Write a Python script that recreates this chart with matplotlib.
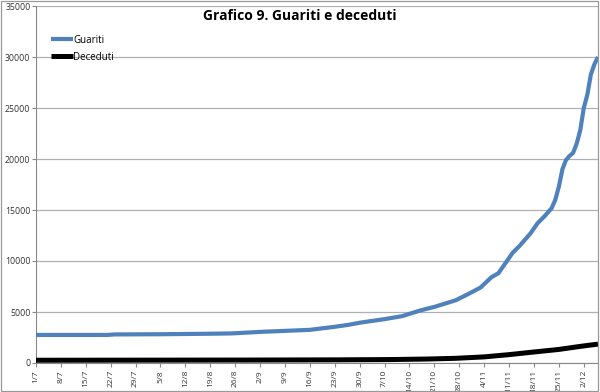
import numpy as np
import pandas as pd
import matplotlib
matplotlib.use("Agg")
import matplotlib.pyplot as plt
from matplotlib.patches import Rectangle

# data (2020, day/month)
guariti_dates = ["2020-07-01", "2020-07-21", "2020-07-23", "2020-08-05", "2020-08-19",
                 "2020-08-25", "2020-09-02", "2020-09-09", "2020-09-16", "2020-09-23",
                 "2020-09-27", "2020-09-30", "2020-10-04", "2020-10-07", "2020-10-12",
                 "2020-10-17", "2020-10-21", "2020-10-27", "2020-10-31", "2020-11-03",
                 "2020-11-06", "2020-11-08", "2020-11-10", "2020-11-12", "2020-11-14",
                 "2020-11-17", "2020-11-19", "2020-11-21", "2020-11-23", "2020-11-24",
                 "2020-11-25", "2020-11-26", "2020-11-27", "2020-11-28", "2020-11-29",
                 "2020-11-30", "2020-12-01", "2020-12-02", "2020-12-03", "2020-12-04",
                 "2020-12-05", "2020-12-06"]
guariti = [2750, 2750, 2800, 2820, 2870,
           2900, 3050, 3150, 3250, 3550,
           3750, 3950, 4150, 4300, 4600,
           5150, 5500, 6150, 6850, 7400,
           8400, 8800, 9800, 10800, 11500,
           12700, 13700, 14400, 15200, 16000,
           17300, 19000, 19900, 20300, 20600,
           21500, 22800, 25000, 26300, 28300,
           29300, 30000]

deceduti_dates = ["2020-07-01", "2020-08-30", "2020-09-24", "2020-10-09", "2020-10-19",
                  "2020-10-27", "2020-11-04", "2020-11-11", "2020-11-18", "2020-11-25",
                  "2020-11-30", "2020-12-03", "2020-12-06"]
deceduti = [270, 290, 310, 340, 390,
            460, 600, 820, 1080, 1330,
            1580, 1720, 1850]

tick_dates = pd.date_range("2020-07-01", "2020-12-02", freq="7D")
tick_labels = [f"{d.day}/{d.month}" for d in tick_dates]

plt.rcParams['font.family'] = ['Open Sans', 'DejaVu Sans']

fig = plt.figure(figsize=(6.0, 3.92), dpi=100)
ax = fig.add_axes([36/600, 29/392, 562/600, 357/392])

ax.plot(pd.to_datetime(guariti_dates), guariti, color="#4F81BD", linewidth=3.0,
        solid_capstyle="butt", label="Guariti", zorder=3)
ax.plot(pd.to_datetime(deceduti_dates), deceduti, color="black", linewidth=3.6,
        solid_capstyle="butt", label="Deceduti", zorder=4)

ax.set_xlim(pd.Timestamp("2020-07-01"), pd.Timestamp("2020-12-06"))
ax.set_ylim(0, 35000)
ax.set_yticks(np.arange(0, 35001, 5000))
ax.set_xticks(tick_dates)
ax.set_xticklabels(tick_labels, rotation=90, fontsize=6, color="#333333")
ax.tick_params(axis="y", labelsize=6.3, colors="#333333", length=3, width=0.8,
               color="#888888", pad=1)
ax.tick_params(axis="x", length=3, width=0.8, color="#888888", pad=2)

ax.grid(axis="y", color="#b0b0b0", linewidth=0.9)
ax.set_axisbelow(True)
for s in ["top", "right"]:
    ax.spines[s].set_visible(False)
ax.spines["left"].set_color("#888888")
ax.spines["bottom"].set_color("#888888")

ax.legend(loc="upper left", bbox_to_anchor=(0.02, 0.93), frameon=False,
          fontsize=7, handlelength=2.2, handletextpad=0.1, labelspacing=0.6,
          borderaxespad=0)

fig.text(0.5, 0.958, "Grafico 9. Guariti e deceduti", ha="center", va="center",
         fontsize=10, fontweight="bold")

fig.patches.append(Rectangle((0.002, 0.003), 0.995, 0.994, transform=fig.transFigure,
                             fill=False, edgecolor="#999999", linewidth=0.9))

fig.savefig("out.png", dpi=100)
